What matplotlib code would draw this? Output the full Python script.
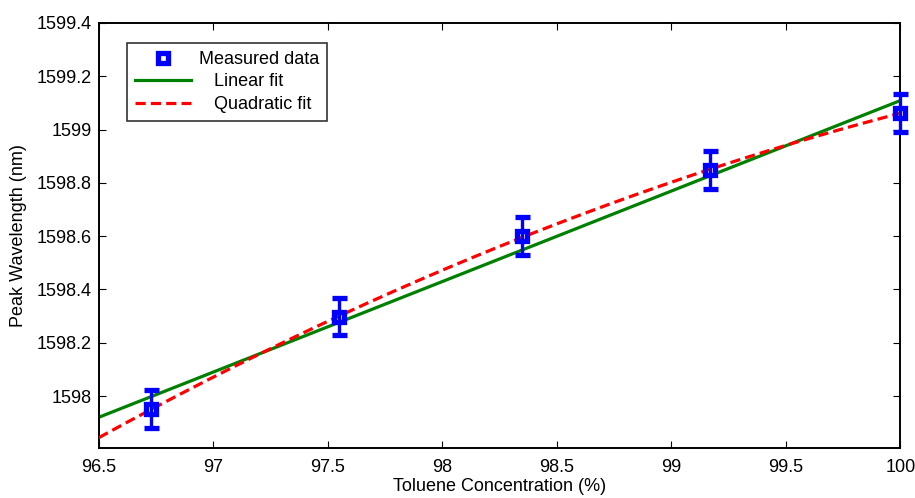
import numpy as np
import matplotlib
matplotlib.use("Agg")
import matplotlib.pyplot as plt

plt.rcParams['font.family'] = ['Liberation Sans', 'DejaVu Sans']

# measured points
conc = [96.73, 97.55, 98.35, 99.17, 100.0]
peak = [1597.951, 1598.298, 1598.600, 1598.848, 1599.062]
err = [0.072, 0.070, 0.070, 0.070, 0.070]

x_lim = (96.5, 100)
y_lim = (1597.805, 1599.4)
x_ticks = [96.5, 97, 97.5, 98, 98.5, 99, 99.5, 100]
y_ticks = [1598, 1598.2, 1598.4, 1598.6, 1598.8, 1599, 1599.2, 1599.4]
y_tick_labels = ['1598', '1598.2', '1598.4', '1598.6', '1598.8', '1599', '1599.2', '1599.4']

fig = plt.figure(figsize=(9.15, 4.98), dpi=100)
ax = fig.add_axes([0.108, 0.1004, 0.876, 0.8536])

# fits of the measured data
xf = np.linspace(x_lim[0], x_lim[1], 300)
lin = np.polyval(np.polyfit(conc, peak, 1), xf)
quad = np.polyval(np.polyfit(conc, peak, 2), xf)

l_lin, = ax.plot(xf, lin, color='#008000', lw=2.3, zorder=2)
l_quad, = ax.plot(xf, quad, color='red', lw=2.3, ls=(0, (3.2, 1.6)), zorder=3)
eb = ax.errorbar(conc, peak, yerr=err, fmt='s', color='blue', ms=6.5, mfc='none',
                 mec='blue', mew=3.8, ecolor='blue', elinewidth=2.4, capsize=5.4,
                 capthick=2.4, zorder=4, clip_on=False)

ax.set_xlim(*x_lim)
ax.set_ylim(*y_lim)
ax.set_xticks(x_ticks)
ax.set_xticklabels([f'{t:g}' for t in x_ticks])
ax.set_yticks(y_ticks)
ax.set_yticklabels(y_tick_labels)
ax.tick_params(direction='in', top=True, right=True, length=5, width=0.8,
               labelsize=13)
ax.tick_params(axis='x', pad=8)
ax.tick_params(axis='y', pad=5)
for s in ax.spines.values():
    s.set_linewidth(1.4)

ax.set_xlabel('Toluene Concentration (%)', fontsize=13, labelpad=1)
ax.set_ylabel('Peak Wavelength (nm)', fontsize=13, labelpad=7)

h_meas = plt.Line2D([], [], ls='none', marker='s', ms=6.5, mfc='none', mec='blue', mew=3.8)
leg = ax.legend([h_meas, l_lin, l_quad],
                ['Measured data', '   Linear fit', '   Quadratic fit'],
                loc='upper left', bbox_to_anchor=(0.035, 0.953), fontsize=13,
                frameon=True, fancybox=False, edgecolor='black', handlelength=3.1,
                handletextpad=0.45, borderpad=0.45, labelspacing=0.3,
                borderaxespad=0)
leg.get_frame().set_linewidth(1.2)

fig.savefig('out.png', dpi=100)
